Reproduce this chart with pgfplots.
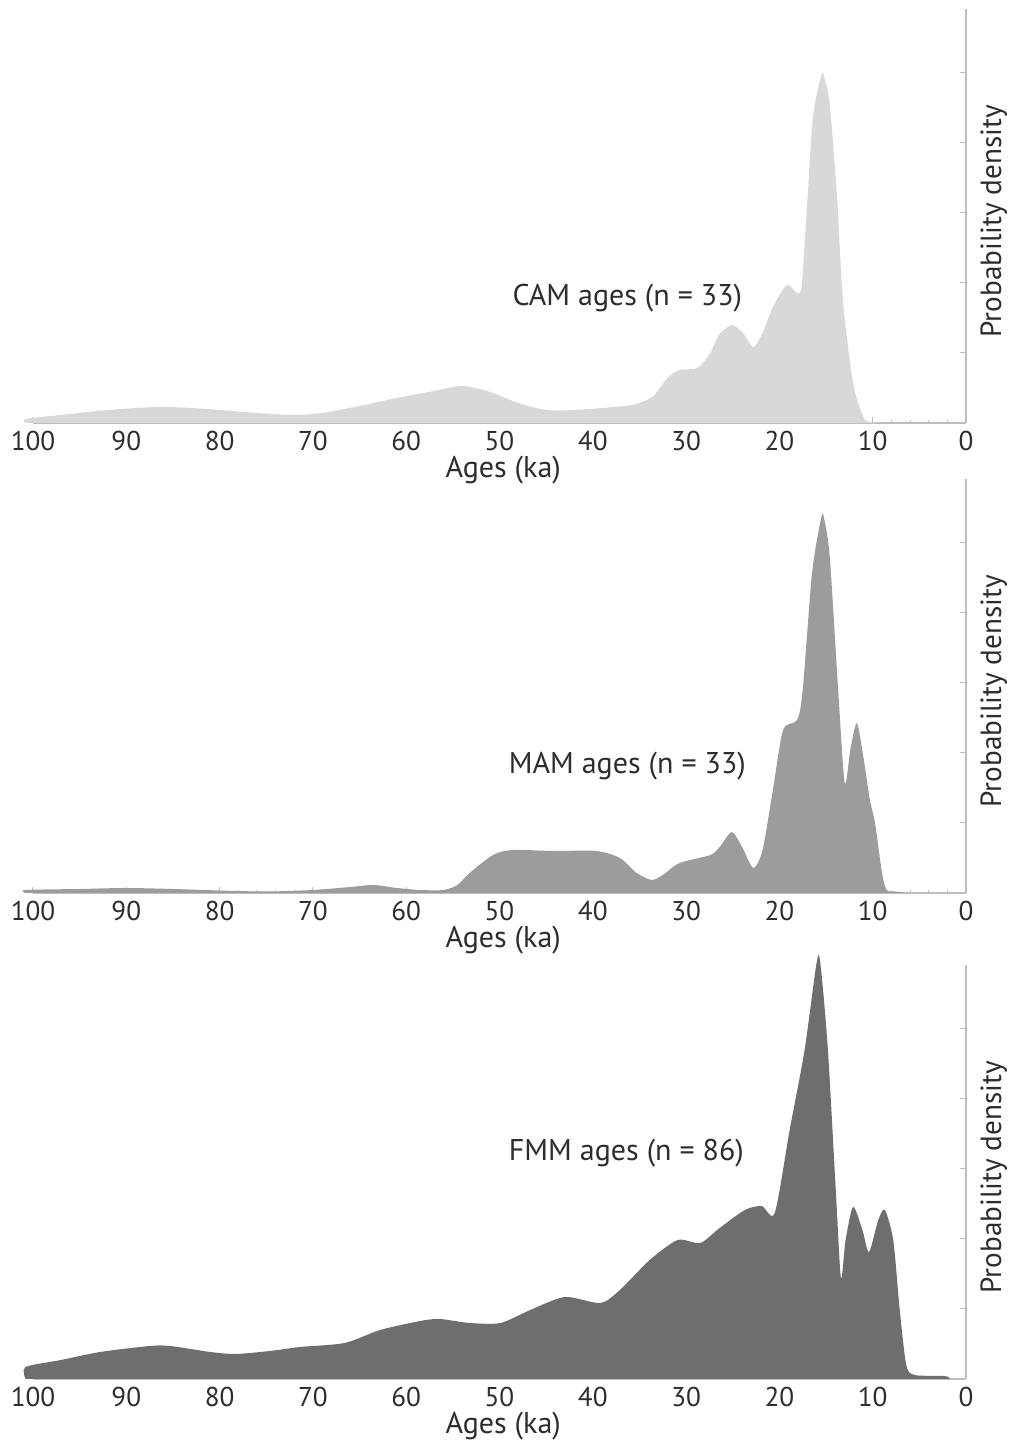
\documentclass[border=0pt]{standalone}
\usepackage{fontspec}
\setmainfont{PT Sans}
\usepackage{pgfplots}
\pgfplotsset{compat=1.18}
\definecolor{cA}{RGB}{216,216,216}
\definecolor{cB}{RGB}{156,156,156}
\definecolor{cC}{RGB}{111,109,110}
\definecolor{lgray}{RGB}{190,190,190}
\definecolor{txt}{RGB}{45,45,45}
\pgfplotsset{panel/.style={
  scale only axis, width=466.5pt, height=207pt,
  xmin=0, xmax=100, x dir=reverse, ymin=0, ymax=414,
  axis x line=bottom, axis y line=right,
  axis line style={-, draw=lgray, line width=0.6pt},
  xtick={0,10,...,100}, minor x tick num=4,
  ytick={70,140,...,350}, yticklabels={},
  tick style={draw=lgray, line width=0.5pt},
  major tick length=3pt, minor tick length=1.5pt,
  tick align=inside,
  /pgf/number format/assume math mode=true,
  xticklabel style={text=txt, font=\fontsize{13.6}{14}\selectfont, anchor=center, inner sep=0pt, yshift=-9pt},
  xlabel={Ages (ka)}, ylabel={Probability density},
  label style={text=txt},
  xlabel style={font=\fontsize{15}{16}\selectfont, at={(axis description cs:0.504,0)}, anchor=north, inner sep=0pt, yshift=-16.3pt},
  ylabel style={font=\fontsize{14.6}{16}\selectfont, at={(axis description cs:1.015,0.487)}, anchor=north, inner sep=0pt, rotate=0},
  clip=false,
}}
\newcommand{\plab}{\fontsize{15}{16}\selectfont}
\begin{document}
\begin{tikzpicture}
\useasboundingbox (0pt,0pt) rectangle (505.5pt,722.5pt);
% Panel 1: CAM
\begin{axis}[panel, at={(16.5pt,511pt)}, anchor=south west]
\addplot[fill=cA, draw=none, smooth, tension=0.45] coordinates {
(100.8,0)(100.8,4)(97,8)(93,12)(89,15)(86,16)(83,15)(80,13)(76,10)(72,8)(69,10)(65,17)(61,25)(57,32)(54,37)(51,31)(48,20)(45,13)(42,13)(39,15)(36.5,17)(35,20)(33.5,27)(32,45)(30.7,53)(28.8,55)(27.4,70)(26.5,88)(25.1,98)(23.9,90)(22.8,76)(21.8,90)(20.7,116)(19.2,138)(18.1,130)(17.6,138)(17,223)(16.4,306)(15.5,348)(15.2,346)(14.6,318)(13.8,223)(13.2,123)(12.1,40)(11,6)(10.3,1)(9,0)
} \closedcycle;
\node[text=txt, font=\plab] at (axis cs:36.3,125) {CAM ages (n = 33)};
\end{axis}
% Panel 2: MAM
\begin{axis}[panel, at={(16.5pt,276pt)}, anchor=south west]
\addplot[fill=cB, draw=none, smooth, tension=0.45] coordinates {
(100.8,0)(100.8,3)(95,4)(90,5)(85,4)(80,2.5)(75,1.5)(70,3)(66,6)(63.5,8)(61,5)(58.5,3)(56,3)(54.5,8)(53.2,20)(50.7,38)(48.6,43)(44.3,42)(39.6,42)(37.1,35)(35.3,20)(33.7,13)(32.5,18)(30.7,30)(27.4,38)(26.4,46)(25.1,61)(24.0,46)(22.8,25)(21.8,43)(20.7,103)(19.6,163)(18.1,173)(17.5,203)(16.5,320)(15.5,376)(15.2,374)(14.6,336)(13.7,203)(13.0,110)(12.4,143)(11.7,170)(11.0,136)(10.3,93)(9.75,70)(9.0,20)(8.5,3)(7.5,1.5)(6.8,1)(6.7,0)
} \closedcycle;
\node[text=txt, font=\plab] at (axis cs:36.3,127) {MAM ages (n = 33)};
\end{axis}
% Panel 3: FMM
\begin{axis}[panel, at={(16.5pt,33pt)}, anchor=south west]
\addplot[fill=cC, draw=none, smooth, tension=0.45] coordinates {
(100.8,0)(100.8,12)(97,19)(92.8,27)(87.5,33)(85.3,33)(81,27)(78.3,25)(74.6,28)(71.4,32)(66.6,36)(62.8,49)(58.5,58)(56.4,60)(53.2,56)(49.9,56)(46.7,69)(43,82)(39.2,76)(37.1,89)(33.9,119)(30.9,139)(28.5,136)(26.4,151)(23.7,169)(21.9,173)(20.5,166)(18.9,249)(17.3,329)(16.0,417)(15.6,415)(14.8,329)(13.9,179)(13.4,101)(12.9,139)(12.1,172)(11.1,149)(10.4,127)(9.4,159)(8.7,169)(7.8,139)(7.1,69)(6.4,14)(5.5,4)(2.3,3)(1.7,0)
} \closedcycle;
\node[text=txt, font=\plab] at (axis cs:36.4,226) {FMM ages (n = 86)};
\end{axis}
\end{tikzpicture}
\end{document}
